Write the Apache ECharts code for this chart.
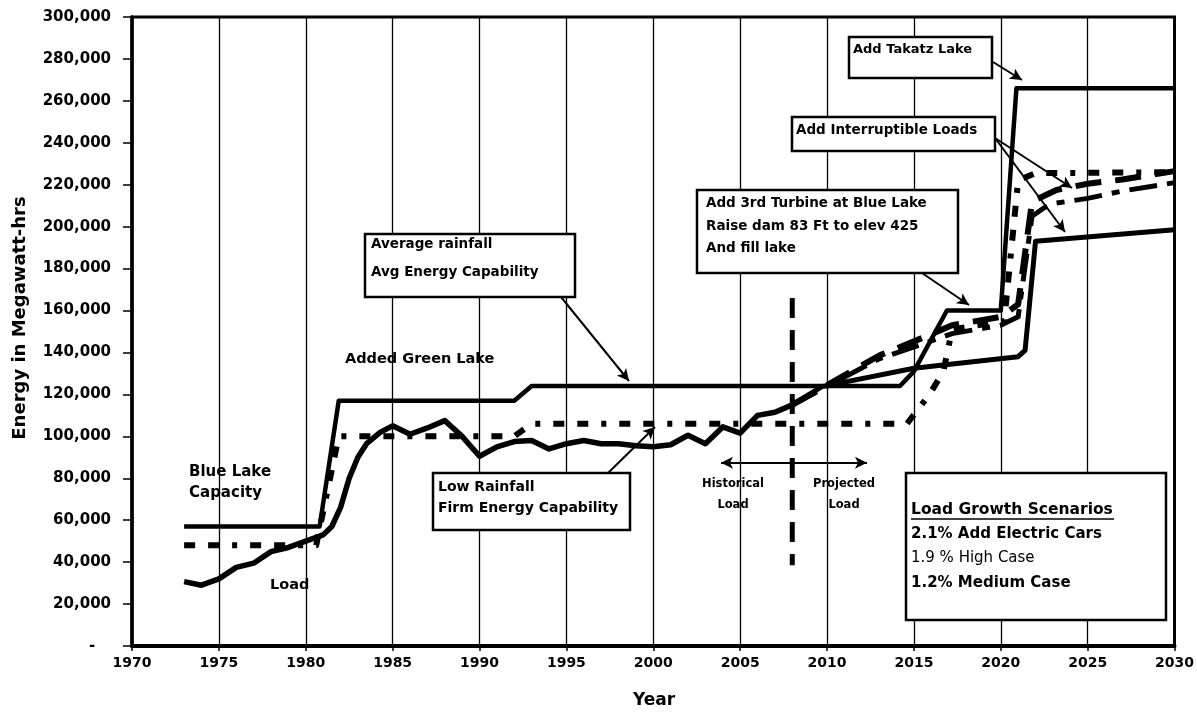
<!DOCTYPE html>
<html><head><meta charset="utf-8">
<script src="https://cdn.jsdelivr.net/npm/echarts@6/dist/echarts.min.js"></script>
<style>html,body{margin:0;padding:0;background:#fff}#c{width:1197px;height:714px}</style>
</head><body><div id="c"></div>
<script>
// ---- axis ranges ----
const xMin = 1970, xMax = 2030, xStep = 5;
const yMin = 0, yMax = 300000, yStep = 20000;

// ---- Average rainfall / Avg Energy Capability (solid) ----
const avgYears  = [1973, 1980.8, 1981.9, 1992, 1993, 2014.2, 2015, 2016.9, 2020, 2020.9, 2030];
const avgValues = [57000, 57000, 117000, 117000, 124000, 124000, 131000, 160000, 160000, 266000, 266000];

// ---- Low rainfall / Firm Energy Capability (heavy dash) ----
const firmYears  = [1973, 1980.6, 1981.9, 1992, 1993, 2014.6, 2015.9, 2016.7, 2017.2, 2020.2, 2021, 2022, 2030];
const firmValues = [48000, 48000, 100000, 100000, 106000, 106000, 120000, 131000, 151000, 155000, 222000, 225500, 226000];

// ---- Historical load ----
const loadYears  = [1973, 1974, 1975, 1976, 1977, 1978, 1979, 1980, 1981, 1981.5, 1982, 1982.5, 1983, 1983.5, 1984.3, 1985, 1986, 1987, 1988, 1989, 1990, 1991, 1992, 1993, 1994, 1995, 1996, 1997, 1998, 1999, 2000, 2001, 2002, 2003, 2004, 2005, 2006, 2007, 2008];
const loadValues = [30700, 29000, 32000, 37500, 39500, 45000, 47000, 50000, 53000, 57000, 66000, 80000, 90000, 96500, 102000, 105000, 101000, 104000, 107500, 100000, 90500, 95000, 97500, 98000, 94000, 96500, 98000, 96500, 96500, 95500, 95000, 96000, 100500, 96500, 104500, 101500, 110000, 111500, 115000];

// ---- Projected load scenarios ----
const medYears   = [2008, 2009.7, 2015, 2021, 2021.4, 2022, 2030];
const medValues  = [115000, 123700, 132500, 138000, 141000, 193000, 198500];
const highYears  = [2008, 2013, 2015.5, 2017.2, 2020, 2021, 2021.8, 2022.5, 2023, 2025, 2027, 2030];
const highValues = [115000, 137000, 144000, 149000, 153000, 157000, 205000, 209000, 211000, 213500, 217000, 221000];
const evYears    = [2008, 2013, 2015.5, 2017.2, 2020, 2021, 2021.8, 2023.2, 2025, 2027, 2030];
const evValues   = [115000, 138500, 147000, 153000, 157000, 163000, 212000, 217500, 220500, 222500, 226500];

// ---- Historical / projected divider ----
const dividerYears  = [2008, 2008];
const dividerValues = [166000, 38500];
const spanArrow = [[2003.9, 87400], [2012.3, 87400]];

const pairs = (xs, ys) => xs.map((x, i) => [x, ys[i]]);

const FONT = 'DejaVu Sans';
const chart = echarts.init(document.getElementById('c'), null, {renderer: 'canvas'});

function lineSeries(name, xs, ys, width, type, z) {
  return {
    name, type: 'line', data: pairs(xs, ys), symbol: 'none', showSymbol: false,
    smooth: false, z: z || 3, silent: true, animation: false,
    lineStyle: {color: '#000', width, type: type || 'solid', cap: 'butt', join: 'round'}
  };
}

function box(x, y, w, h) {
  return {type: 'rect', shape: {x, y, width: w, height: h},
    style: {fill: '#fff', stroke: '#000', lineWidth: 2.5}, z: 50};
}
function txt(x, y, text, size, weight, align) {
  return {type: 'text', x, y, z: 60,
    style: {text, fill: '#000', font: (weight || 'bold') + ' ' + size + 'px "' + FONT + '"',
      textAlign: align || 'left', textVerticalAlign: 'middle'}};
}

const arrowLines = [
  [{x: 561, y: 297}, {x: 629, y: 381}],
  [{x: 608, y: 473}, {x: 655, y: 427}],
  [{x: 922, y: 273}, {x: 969, y: 305}],
  [{x: 995, y: 138}, {x: 1072, y: 188}],
  [{x: 995, y: 138}, {x: 1065, y: 232}],
  [{x: 993, y: 62},  {x: 1022, y: 80}]
];

const option = {
  backgroundColor: '#fff',
  animation: false,
  grid: {left: 132, right: 22, top: 17, bottom: 68, show: true, borderColor: '#000', borderWidth: 3, containLabel: false},
  xAxis: {
    type: 'value', min: xMin, max: xMax, interval: xStep,
    axisLine: {show: true, onZero: false, lineStyle: {color: '#000', width: 4}},
    axisTick: {show: true, length: 5, lineStyle: {color: '#000', width: 1.5}},
    axisLabel: {color: '#000', fontFamily: FONT, fontWeight: 'bold', fontSize: 14, margin: 10,
      formatter: v => String(v)},
    splitLine: {show: true, lineStyle: {color: '#000', width: 1.3}}
  },
  yAxis: {
    type: 'value', min: yMin, max: yMax, interval: yStep,
    axisLine: {show: true, lineStyle: {color: '#000', width: 3.5}},
    axisTick: {show: true, length: 9, lineStyle: {color: '#000', width: 1.5}},
    axisLabel: {color: '#000', fontFamily: FONT, fontWeight: 'bold', fontSize: 15, margin: 21,
      formatter: v => v === 0 ? '-   ' : v.toLocaleString('en-US')},
    splitLine: {show: false}
  },
  series: [
    lineSeries('Avg Energy Capability', avgYears, avgValues, 4.5, 'solid', 5),
    lineSeries('Firm Energy Capability', firmYears, firmValues, 6, [11, 13, 11, 13, 5, 13], 4),
    lineSeries('Load', loadYears, loadValues, 5.5, 'solid', 6),
    lineSeries('1.2% Medium Case', medYears, medValues, 5, 'solid', 6),
    lineSeries('1.9 % High Case', highYears, highValues, 5, [28, 10, 8, 10], 6),
    lineSeries('2.1% Add Electric Cars', evYears, evValues, 6, [26, 14], 6),
    Object.assign(lineSeries('Divider', dividerYears, dividerValues, 5, [20, 12], 4), {
      markLine: {
        silent: true, animation: false, symbolSize: [9, 12],
        label: {show: false},
        lineStyle: {color: '#000', width: 2, type: 'solid'},
        data: [
          [{coord: spanArrow[0], symbol: 'arrow'}, {coord: spanArrow[1], symbol: 'arrow'}]
        ].concat(arrowLines.map(p => [Object.assign({symbol: 'none'}, p[0]), Object.assign({symbol: 'arrow'}, p[1])]))
      }
    })
  ],
  graphic: [
    // axis titles
    {type: 'text', x: 20, y: 318, rotation: Math.PI / 2, z: 60,
      style: {text: 'Energy in Megawatt-hrs', fill: '#000', font: 'bold 18px "' + FONT + '"', textAlign: 'center', textVerticalAlign: 'middle'}},
    txt(654, 701, 'Year', 17, 'bold', 'center'),
    // free labels
    txt(189, 472, 'Blue Lake', 15),
    txt(189, 493, 'Capacity', 15),
    txt(345, 359, 'Added Green Lake', 14.5),
    txt(270, 585, 'Load', 14.5),
    txt(733, 484, 'Historical', 11.5, 'bold', 'center'),
    txt(733, 505, 'Load', 11.5, 'bold', 'center'),
    txt(844, 484, 'Projected', 11.5, 'bold', 'center'),
    txt(844, 505, 'Load', 11.5, 'bold', 'center'),
    // boxes
    box(365, 234, 210, 63),
    txt(371, 244, 'Average rainfall', 13.5),
    txt(371, 272, 'Avg Energy Capability', 13.5),
    box(433, 473, 197, 57),
    txt(438, 487, 'Low Rainfall', 14),
    txt(438, 508, 'Firm Energy Capability', 14),
    box(697, 190, 261, 83),
    txt(706, 203, 'Add 3rd Turbine at Blue Lake', 13.5),
    txt(706, 226, 'Raise dam 83 Ft to elev 425', 13.5),
    txt(706, 248, 'And fill lake', 13.5),
    box(792, 117, 203, 34),
    txt(796, 130, 'Add Interruptible Loads', 13.5),
    box(849, 37, 143, 41),
    txt(853, 50, 'Add Takatz Lake', 13),
    // legend box
    box(906, 473, 260, 147),
    txt(911, 510, 'Load Growth Scenarios', 15.5),
    {type: 'line', z: 60, shape: {x1: 911, y1: 519, x2: 1114, y2: 519}, style: {stroke: '#000', lineWidth: 1.5}},
    txt(911, 534, '2.1% Add Electric Cars', 15),
    txt(911, 558, '1.9 % High Case', 15, 'normal'),
    txt(911, 583, '1.2% Medium Case', 15)
  ]
};
chart.setOption(option);
</script>
</body></html>
